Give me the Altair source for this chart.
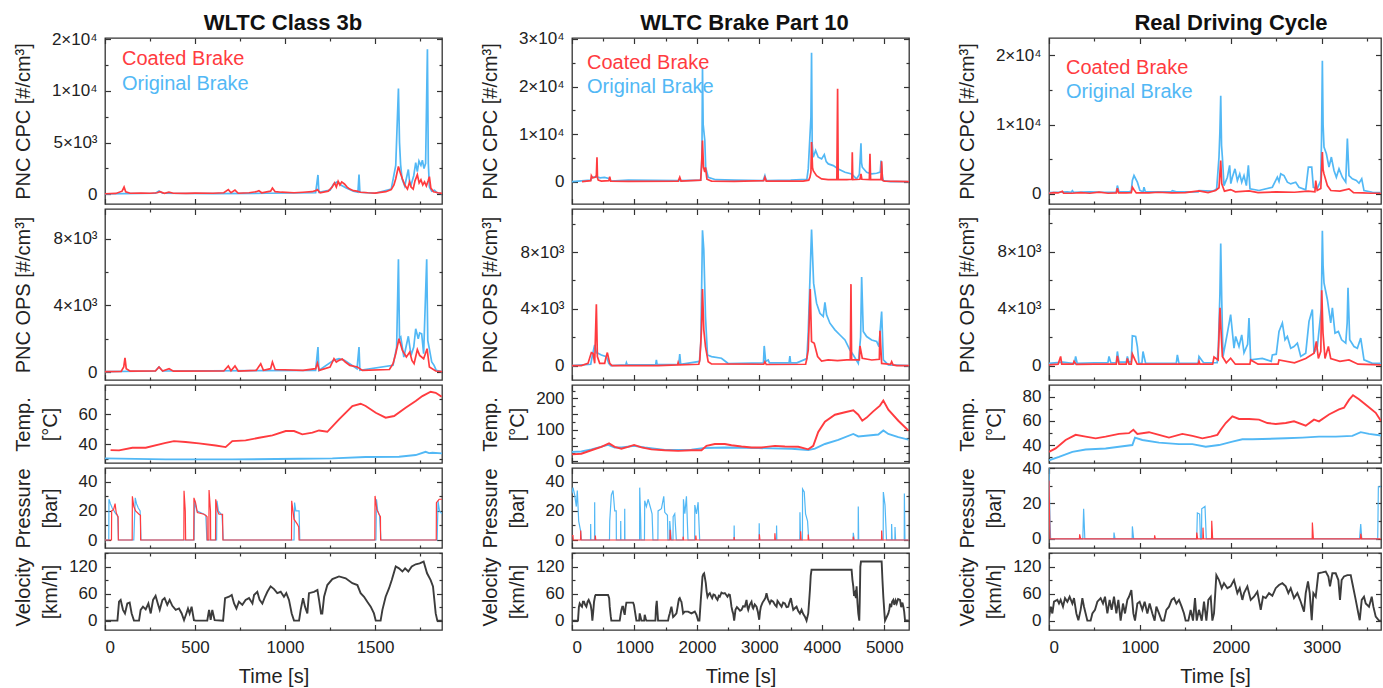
import altair as alt
import pandas as pd

RED = "#ff3b3f"
BLUE = "#52b8f5"
GREY = "#3c3c3c"
FONT = "Liberation Sans"

# ---------------------------------------------------------------- WLTC Class 3b
wltc_cpc_coated = [(0,50),(60,80),(95,300),(106,700),(115,250),(140,100),(200,120),(250,100),(290,150),(305,250),(330,100),(355,200),(380,100),(450,80),(500,120),(600,100),(660,150),(685,450),(700,150),(722,400),(740,100),(800,150),(840,250),(855,350),(870,150),(920,300),(930,600),(945,250),(980,200),(1050,150),(1100,200),(1150,250),(1170,350),(1180,450),(1195,150),(1240,300),(1262,700),(1275,1100),(1285,700),(1295,1250),(1305,900),(1315,1200),(1330,1000),(1345,700),(1360,500),(1380,350),(1400,300),(1420,200),(1460,150),(1500,120),(1560,250),(1590,450),(1605,900),(1615,1500),(1630,2700),(1642,2000),(1652,1500),(1665,900),(1680,500),(1692,1200),(1700,700),(1712,500),(1722,1300),(1735,1900),(1745,1100),(1755,1400),(1765,900),(1775,1200),(1785,800),(1795,1300),(1802,1700),(1810,600),(1825,250),(1850,150),(1872,80)]
wltc_cpc_original = [(0,30),(100,60),(280,100),(300,320),(320,100),(600,60),(900,100),(1170,150),(1183,1870),(1188,200),(1250,400),(1270,1000),(1290,1200),(1310,900),(1340,600),(1380,300),(1405,200),(1411,1900),(1416,200),(1500,100),(1590,500),(1615,2800),(1630,10250),(1636,5000),(1642,2900),(1650,1500),(1665,800),(1685,2400),(1692,1200),(1700,900),(1715,1800),(1726,3060),(1735,2200),(1744,3220),(1755,2800),(1763,3300),(1772,2500),(1781,3000),(1791,14040),(1796,3000),(1802,700),(1815,300),(1830,400),(1845,150),(1872,50)]
wltc_ops_coated = [(0,20),(90,30),(104,300),(111,845),(118,200),(140,50),(280,60),(300,300),(320,60),(356,200),(380,50),(660,60),(685,360),(700,80),(722,360),(740,60),(840,100),(865,500),(880,100),(920,200),(930,600),(945,150),(1100,100),(1170,200),(1180,540),(1190,100),(1250,300),(1272,800),(1285,600),(1300,700),(1318,780),(1335,600),(1360,400),(1402,300),(1430,100),(1580,150),(1600,500),(1615,1100),(1633,2000),(1652,1300),(1674,900),(1693,1200),(1705,700),(1717,500),(1735,1350),(1748,1000),(1770,800),(1789,1400),(1802,300),(1837,60),(1872,20)]
wltc_ops_original = [(0,20),(280,60),(300,300),(320,60),(1170,100),(1183,1500),(1188,100),(1270,700),(1300,800),(1330,700),(1400,200),(1411,1500),(1416,100),(1600,400),(1620,1500),(1630,6780),(1636,2000),(1643,2100),(1660,900),(1685,2150),(1700,1000),(1715,1500),(1726,2600),(1740,2000),(1748,2350),(1759,2300),(1770,1100),(1787,6780),(1793,1900),(1800,1500),(1815,600),(1828,400),(1840,100),(1872,20)]
wltc_temp_coated = [(31,36.2),(78,36),(152,37.8),(226,37.8),(337,41),(383,42.2),(448,41.6),(522,40.7),(615,39.3),(670,38.2),(707,42.2),(781,42.7),(856,44.4),(930,46),(1004,48.9),(1050,48.9),(1096,46.7),(1152,47.8),(1189,49.3),(1235,48.4),(1300,56.7),(1374,65.6),(1420,67.1),(1448,65.6),(1504,61.1),(1559,57.8),(1606,58.9),(1670,64.4),(1726,68.9),(1763,72.2),(1809,75.1),(1837,74.4),(1870,71.8)]
wltc_temp_original = [(0,30.7),(337,30),(707,30),(1078,30.4),(1263,30.7),(1448,31.6),(1633,31.8),(1726,32.9),(1781,35.1),(1800,34.2),(1819,34.4),(1872,34)]
wltc_pressure_coated = [(0,0),(36,0),(37,20),(48,21),(56,25),(62,19),(69,16.5),(73,16),(74,0),(151,0),(152,30),(160,23),(170,20),(189,17.7),(197,17),(198,0),(438,0),(439,33.8),(446,20),(448,0),(493,0),(494,29),(503,25.7),(513,18.9),(550,17.7),(563,16.5),(567,16),(568,0),(577,0),(578,34.3),(586,20),(587,0),(614,0),(615,28),(625,20),(633,17.7),(653,17.7),(655,0),(1036,0),(1037,27),(1050,14.3),(1069,10.8),(1076,9),(1078,0),(1499,0),(1500,30.3),(1510,21),(1522,17.7),(1530,16),(1531,0),(1840,0),(1841,25.7),(1856,28),(1872,28)]
wltc_pressure_original = [(0,0),(21,0),(22,28),(30,25),(40,22),(50,20),(60,18),(70,17),(75,0),(160,0),(168,29),(175,25),(185,22),(195,20),(200,0),(495,0),(498,27),(510,20),(545,18),(560,17),(566,0),(620,0),(622,27),(630,20),(650,17),(657,0),(1050,0),(1053,25.7),(1060,20),(1078,20),(1082,0),(1505,0),(1508,28),(1515,20),(1525,17),(1533,0),(1845,0),(1850,27),(1858,20),(1872,18)]
wltc_velocity = [(0,0),(69,0),(78,42),(87,46),(100,24),(111,16),(124,38),(137,40),(148,16),(161,0),(189,0),(198,24),(211,31),(226,25),(241,38),(254,16),(267,46),(281,55),(294,37),(304,24),(319,46),(331,50),(346,35),(359,46),(374,33),(393,24),(411,27),(426,16),(439,1),(452,16),(461,27),(470,16),(481,31),(494,1),(504,0),(568,0),(578,24),(587,2),(596,24),(609,1),(656,0),(667,50),(689,53),(704,57),(717,38),(730,27),(744,42),(763,35),(781,46),(800,50),(819,38),(828,57),(846,64),(859,46),(874,38),(889,53),(902,64),(920,76),(939,70),(957,61),(976,64),(994,53),(1007,61),(1022,46),(1037,16),(1050,0),(1078,0),(1087,24),(1100,50),(1111,31),(1124,16),(1133,61),(1161,64),(1180,68),(1189,46),(1200,16),(1207,16),(1217,53),(1235,79),(1263,92),(1300,98),(1337,94),(1374,83),(1402,79),(1420,61),(1439,53),(1457,42),(1476,31),(1494,16),(1504,0),(1531,0),(1541,24),(1559,53),(1578,72),(1593,90),(1615,120),(1633,116),(1652,109),(1667,116),(1685,109),(1704,120),(1726,125),(1748,127),(1770,131),(1789,105),(1809,90),(1822,76),(1837,16),(1846,0),(1872,0)]

# ---------------------------------------------------------------- WLTC Brake Part 10
brake_cpc_coated = [(160,0),(300,200),(310,1260),(330,800),(370,900),(390,1260),(400,5130),(408,800),(420,300),(470,100),(590,200),(604,1050),(620,100),(900,50),(1700,100),(1725,900),(1745,100),(2060,300),(2073,3000),(2089,8640),(2105,3000),(2126,2000),(2137,3000),(2160,500),(2233,100),(2600,50),(3070,200),(3088,900),(3110,100),(3700,100),(3790,300),(3809,900),(3825,2000),(3835,8300),(3850,3000),(3862,2300),(3915,1260),(3996,560),(4100,400),(4240,400),(4252,19500),(4262,400),(4400,400),(4480,500),(4487,6180),(4495,400),(4610,500),(4626,1600),(4640,500),(4760,400),(4770,5830),(4780,400),(4945,400),(4957,4290),(4970,300),(5000,100),(5395,0)]
brake_cpc_original = [(0,0),(300,300),(320,900),(400,1000),(450,800),(520,900),(604,600),(620,100),(900,300),(1700,200),(2060,300),(2080,5000),(2089,24100),(2100,12000),(2126,8640),(2140,3000),(2180,900),(2300,400),(2600,300),(3060,200),(3088,1260),(3110,200),(3500,300),(3760,500),(3782,2670),(3825,13560),(3835,27100),(3845,8000),(3862,5130),(3900,6540),(3942,5130),(3996,4780),(4039,5690),(4070,4200),(4103,3720),(4183,3370),(4263,2670),(4370,1970),(4476,1620),(4556,560),(4600,1500),(4626,8080),(4635,4000),(4647,3020),(4717,1970),(4797,1620),(4877,1760),(4935,2000),(4947,4430),(4970,1000),(4984,200),(5100,0),(5395,0)]
brake_ops_coated = [(0,0),(150,0),(256,160),(310,920),(337,870),(363,165),(390,4330),(406,640),(443,160),(523,160),(540,500),(566,920),(604,160),(640,0),(1378,0),(1690,50),(1699,210),(1710,50),(2030,100),(2046,400),(2073,2520),(2089,5390),(2110,2520),(2137,1340),(2180,280),(2233,120),(3070,100),(3088,280),(3110,80),(3740,100),(3755,400),(3782,1100),(3814,5390),(3835,1700),(3878,1580),(3932,640),(3996,330),(4100,400),(4250,350),(4400,400),(4455,400),(4466,5740),(4476,400),(4600,400),(4610,1390),(4647,520),(4800,400),(4920,450),(4930,2450),(4957,160),(5100,100),(5117,280),(5140,50),(5200,0),(5395,0)]
brake_ops_original = [(0,0),(300,100),(330,800),(363,1460),(390,900),(417,870),(470,750),(550,640),(588,160),(620,0),(860,50),(871,210),(885,50),(1340,80),(1351,400),(1362,80),(1710,100),(1725,820),(1740,100),(2040,300),(2062,1580),(2089,9530),(2110,8160),(2137,3460),(2169,750),(2233,640),(2393,520),(2500,150),(3065,200),(3077,1390),(3100,300),(3141,400),(3160,200),(3475,200),(3488,680),(3500,200),(3600,200),(3760,500),(3782,2400),(3835,9580),(3868,5810),(3915,4400),(3969,3690),(4022,3460),(4049,4450),(4076,3580),(4129,2990),(4209,2520),(4290,2160),(4370,1810),(4450,1100),(4503,750),(4583,160),(4620,2000),(4637,6240),(4663,2400),(4717,2050),(4797,1810),(4877,1700),(4914,1340),(4957,3810),(4984,400),(5064,50),(5395,0)]
brake_temp_coated = [(0,22),(150,24),(310,35),(470,46),(593,57),(684,46),(791,40),(897,46),(994,52),(1111,44),(1271,38),(1485,35),(1699,33),(1912,35),(2073,35),(2153,49),(2286,55),(2447,55),(2553,51),(2714,47),(2874,44),(3034,44),(3248,49),(3408,47),(3622,46),(3782,38),(3862,49),(3942,93),(4049,126),(4209,148),(4370,156),(4503,162),(4583,148),(4647,129),(4717,139),(4818,158),(4930,177),(4984,193),(5064,164),(5224,129),(5385,98)]
brake_temp_original = [(0,30),(150,31),(310,38),(577,52),(684,44),(791,44),(994,49),(1164,44),(1485,36),(1912,37),(2126,42),(2447,44),(2981,42),(3515,40),(3782,36),(3889,40),(4049,55),(4263,68),(4503,87),(4583,79),(4744,82),(4904,85),(4984,98),(5064,87),(5224,77),(5385,69)]
brake_pressure_coated = [(0,3),(16,3),(20,0),(137,0),(139,6.5),(145,0),(372,0),(374,3),(380,0),(1569,0),(1571,7),(1580,0),(1777,0),(1779,2.3),(1785,0),(1980,0),(1982,3),(1990,0),(2594,0),(2596,2),(2600,0),(2998,0),(3000,4),(3008,0),(3246,0),(3248,4.6),(3256,0),(3658,0),(3660,6),(3668,0),(3780,0),(3782,3.7),(3790,0),(4501,0),(4503,2.3),(4510,0),(4955,0),(4957,6.5),(4965,0),(5395,0)]
brake_pressure_original = [(0,32),(16,36),(43,31),(69,23),(85,34),(107,13),(139,6),(150,0),(297,0),(299,11),(302,0),(361,0),(363,26),(366,0),(600,0),(604,13),(630,31),(657,34),(684,20),(708,20),(710,0),(778,0),(780,13),(783,0),(842,0),(844,21.5),(847,0),(1082,0),(1084,36),(1100,13),(1105,0),(1160,0),(1164,27),(1191,23),(1218,28),(1261,21.5),(1282,18),(1296,0),(1375,0),(1378,20),(1432,21.5),(1469,30),(1485,19),(1528,17),(1536,0),(1563,0),(1565,13),(1590,0),(1617,0),(1619,16),(1645,18),(1670,0),(1782,0),(1784,28),(1806,18),(1832,30),(1857,0),(1964,0),(1966,24),(1993,18),(2019,26),(2044,0),(2594,0),(2596,10),(2600,0),(2995,0),(2997,11.5),(3001,0),(3273,0),(3275,10),(3279,0),(3647,0),(3649,19),(3660,0),(3689,0),(3691,35),(3718,33),(3739,18),(3771,13),(3790,0),(4501,0),(4503,5),(4520,0),(4581,0),(4583,23),(4590,0),(4982,0),(4984,33),(5011,24),(5035,0),(5115,0),(5117,11),(5125,0),(5169,0),(5171,9),(5180,0),(5319,0),(5321,32),(5330,0),(5395,0)]
brake_velocity = [(0,0),(96,0),(110,30),(123,38),(140,34),(160,31),(175,42),(192,42),(210,35),(230,31),(250,42),(267,46),(285,40),(299,35),(315,20),(326,0),(340,20),(353,42),(370,55),(379,57),(450,57),(577,57),(595,50),(604,31),(620,10),(630,0),(764,0),(780,15),(791,24),(805,31),(817,31),(830,20),(844,13),(858,30),(871,40),(978,40),(992,35),(1004,24),(1031,0),(1075,0),(1084,16),(1095,10),(1111,0),(1155,0),(1164,13),(1180,5),(1191,0),(1335,0),(1345,30),(1357,44),(1368,20),(1378,0),(1538,0),(1552,10),(1565,16),(1580,25),(1592,31),(1605,20),(1619,8),(1635,10),(1672,16),(1690,30),(1699,38),(1712,48),(1725,50),(1740,45),(1752,42),(1765,30),(1779,16),(1806,20),(1859,20),(1912,16),(1966,20),(1993,13),(2019,0),(2040,0),(2062,46),(2075,70),(2089,98),(2102,103),(2115,105),(2128,95),(2142,83),(2155,65),(2169,53),(2185,58),(2206,61),(2225,55),(2244,50),(2265,58),(2286,57),(2308,50),(2329,46),(2350,55),(2366,53),(2393,62),(2420,60),(2447,61),(2470,57),(2489,53),(2510,58),(2527,57),(2540,45),(2553,31),(2570,20),(2580,16),(2596,0),(2605,10),(2617,24),(2640,30),(2660,27),(2690,22),(2714,24),(2740,32),(2767,31),(2794,46),(2808,30),(2821,24),(2845,35),(2874,42),(2890,30),(2901,27),(2925,36),(2954,31),(2975,20),(2997,2),(3010,20),(3024,31),(3050,40),(3077,46),(3095,50),(3114,61),(3135,48),(3168,38),(3190,45),(3221,42),(3250,35),(3275,31),(3290,44),(3301,42),(3330,36),(3355,31),(3380,40),(3408,38),(3435,30),(3462,31),(3480,40),(3504,50),(3520,38),(3542,24),(3570,28),(3595,31),(3620,22),(3649,16),(3675,24),(3700,15),(3729,9),(3755,0),(3782,16),(3800,50),(3809,68),(3822,100),(3835,113),(4476,113),(4490,90),(4503,76),(4515,55),(4530,61),(4545,50),(4556,76),(4570,40),(4583,16),(4599,0),(4606,40),(4616,120),(4626,131),(4957,131),(4970,90),(4984,53),(5000,20),(5011,0),(5064,16),(5080,25),(5091,38),(5110,30),(5125,42),(5144,46),(5160,35),(5180,45),(5198,38),(5220,48),(5251,46),(5270,30),(5290,40),(5305,31),(5318,20),(5331,1),(5395,0)]

# ---------------------------------------------------------------- Real Driving Cycle
rdc_cpc_coated = [(0,100),(50,200),(100,150),(147,390),(160,100),(250,100),(350,200),(450,100),(550,250),(650,100),(740,150),(752,820),(765,150),(850,150),(905,200),(917,970),(935,600),(960,150),(1100,150),(1200,250),(1350,150),(1500,200),(1650,450),(1750,200),(1833,500),(1870,900),(1889,4840),(1900,1500),(1907,1210),(1930,400),(1998,630),(2050,300),(2200,450),(2300,200),(2500,300),(2700,250),(2850,400),(2925,300),(2934,1940),(2950,500),(2990,800),(3007,6050),(3015,3500),(3025,2900),(3062,1210),(3100,500),(3200,400),(3300,730),(3350,200),(3450,150),(3550,100),(3652,100)]
rdc_cpc_original = [(0,200),(100,250),(200,300),(245,250),(257,480),(270,250),(450,300),(600,250),(740,250),(752,1210),(770,300),(880,300),(905,400),(917,1940),(935,2660),(972,1700),(1000,500),(1035,300),(1045,970),(1060,300),(1200,300),(1345,300),(1357,480),(1400,300),(1640,300),(1650,480),(1800,400),(1844,700),(1870,5330),(1880,9000),(1889,14190),(1898,7000),(1907,5330),(1925,1210),(1962,2420),(1987,4120),(2000,1500),(2017,2420),(2046,3630),(2072,1940),(2098,2900),(2120,1700),(2145,2660),(2171,1210),(2193,4120),(2211,730),(2310,500),(2457,970),(2512,2420),(2530,1800),(2549,2900),(2585,2660),(2622,1700),(2659,1450),(2714,1700),(2750,970),(2824,600),(2853,3870),(2890,3870),(2908,970),(2952,800),(2989,1940),(2998,8000),(3007,19220),(3015,10000),(3025,6780),(3051,5810),(3080,3870),(3106,5330),(3135,3390),(3161,2420),(3190,3630),(3227,2420),(3264,1700),(3282,7990),(3300,2660),(3337,2180),(3381,1940),(3410,1550),(3440,2180),(3465,480),(3557,250),(3652,200)]
rdc_ops_coated = [(0,50),(100,100),(128,640),(140,100),(265,100),(275,300),(300,80),(500,100),(740,100),(752,680),(770,100),(850,100),(862,500),(880,100),(905,100),(917,820),(946,400),(970,100),(1200,100),(1640,100),(1650,300),(1660,100),(1800,100),(1815,600),(1860,400),(1881,4050),(1892,2520),(1907,640),(1950,200),(1998,520),(2050,100),(2210,100),(2218,400),(2300,100),(2520,100),(2530,400),(2700,200),(2824,500),(2915,870),(2941,1700),(2963,500),(2990,1000),(3000,5290),(3014,2280),(3036,500),(3073,1340),(3099,500),(3200,300),(3300,400),(3400,100),(3652,50)]
rdc_ops_original = [(0,150),(150,250),(280,150),(293,640),(310,150),(500,200),(648,200),(660,640),(680,200),(740,200),(752,990),(770,250),(850,250),(862,640),(880,200),(905,300),(917,2090),(953,2050),(972,1340),(990,150),(1022,150),(1034,990),(1063,150),(1400,150),(1412,750),(1430,150),(1640,150),(1650,640),(1700,200),(1850,200),(1863,1340),(1880,5000),(1889,8560),(1900,4640),(1914,640),(1962,2280),(1998,3580),(2035,1220),(2053,2050),(2090,1340),(2120,2160),(2145,900),(2185,1500),(2200,3340),(2218,400),(2347,500),(2445,300),(2457,750),(2500,800),(2530,2400),(2567,2990),(2596,1810),(2622,2050),(2659,1220),(2695,1340),(2732,1580),(2769,640),(2824,870),(2860,3110),(2897,3930),(2915,870),(2952,1340),(2995,4000),(3007,9460),(3015,7000),(3025,5810),(3062,4640),(3099,2990),(3117,4050),(3146,2280),(3183,2400),(3219,1810),(3264,1580),(3280,3000),(3289,5460),(3308,1810),(3355,1340),(3392,1220),(3429,1930),(3465,400),(3557,160),(3652,160)]
rdc_temp_coated = [(0,34.4),(73,37.2),(183,44.2),(293,48.5),(403,47),(513,45.6),(623,47),(770,49.3),(880,49.9),(928,52.7),(972,49.3),(1100,50.7),(1210,48.5),(1320,46.2),(1467,49.3),(1577,47.6),(1687,45.6),(1779,47),(1852,48.5),(1889,52.7),(1944,58.3),(2017,63.9),(2090,61.7),(2200,61.7),(2310,61.1),(2402,58.3),(2494,57.5),(2604,58.3),(2695,59.7),(2824,56.1),(2915,61.1),(2970,59.7),(3080,65.4),(3190,69.6),(3245,71),(3300,77.5),(3344,81.4),(3410,78),(3502,72.4),(3594,66.8),(3652,60)]
rdc_temp_original = [(0,27.3),(110,30.1),(257,34.4),(403,36.3),(623,37.2),(770,38.6),(917,40),(946,46.2),(1027,44.2),(1210,42),(1430,40.8),(1577,40.8),(1724,38.6),(1870,40),(2017,42.8),(2127,44.8),(2237,44.8),(2604,45.6),(2787,46.2),(2970,47),(3154,47),(3337,47.6),(3429,50.7),(3520,49.3),(3652,48)]
rdc_pressure_coated = [(0,33),(11,0),(335,0),(337,2.5),(348,0),(1160,0),(1162,2),(1170,0),(1623,0),(1625,3.5),(1635,0),(1692,0),(1694,6.3),(1700,0),(1788,0),(1790,10.2),(1800,0),(2895,0),(2897,9.2),(2908,0),(3427,0),(3429,2.9),(3440,0),(3652,0)]
rdc_pressure_original = [(0,40),(11,10),(18,0),(372,0),(381,17),(394,0),(713,0),(715,3.5),(726,0),(915,0),(917,7),(931,0),(1625,0),(1632,14.6),(1657,14),(1666,0),(1678,0),(1680,17),(1716,18.3),(1730,0),(3416,0),(3429,8.3),(3440,0),(3616,0),(3623,29.4),(3652,29.4)]
rdc_velocity = [(0,5),(18,31),(37,16),(55,42),(92,46),(110,38),(128,46),(154,31),(176,50),(202,42),(227,53),(257,38),(275,50),(301,16),(323,1),(348,24),(367,50),(385,31),(403,16),(422,0),(458,0),(477,16),(506,24),(532,42),(568,50),(594,38),(616,53),(642,16),(667,46),(689,24),(715,53),(741,16),(763,46),(788,0),(814,38),(836,16),(862,46),(880,53),(906,68),(928,16),(946,0),(972,38),(997,42),(1027,24),(1052,42),(1082,16),(1107,38),(1137,16),(1162,0),(1181,31),(1210,16),(1239,0),(1265,0),(1291,24),(1320,31),(1349,46),(1375,50),(1401,38),(1430,46),(1459,31),(1485,16),(1503,0),(1533,0),(1558,24),(1584,0),(1606,50),(1625,0),(1650,24),(1680,0),(1705,42),(1731,0),(1753,46),(1779,53),(1797,0),(1815,16),(1841,101),(1870,90),(1900,72),(1925,83),(1962,72),(1998,76),(2035,90),(2072,61),(2098,72),(2127,46),(2145,61),(2182,76),(2219,46),(2255,53),(2292,64),(2329,24),(2354,53),(2384,50),(2420,61),(2457,55),(2494,72),(2530,79),(2567,83),(2604,76),(2633,61),(2659,72),(2695,50),(2732,61),(2769,42),(2805,20),(2824,61),(2849,87),(2868,61),(2890,1),(2908,61),(2934,53),(2963,105),(3007,107),(3044,109),(3073,98),(3091,76),(3117,105),(3154,105),(3183,90),(3201,46),(3219,90),(3245,98),(3282,101),(3319,101),(3337,83),(3374,46),(3403,16),(3418,1),(3440,46),(3465,53),(3484,38),(3520,31),(3550,53),(3568,31),(3594,9),(3630,0),(3652,0)]

# axis text
CPC_TITLE = "PNC CPC [#/cm³]"
OPS_TITLE = "PNC OPS [#/cm³]"
TEMP_TITLE = ["Temp.", "[°C]"]
PRES_TITLE = ["Pressure", "[bar]"]
VEL_TITLE = ["Velocity", "[km/h]"]
LEGEND_LABELS = ["Coated Brake", "Original Brake"]


def frame(pairs):
    return pd.DataFrame(pairs, columns=["t", "v"])


def steps(lo, hi, step):
    out, k = [], 0
    while lo + k * step <= hi + 1e-9:
        out.append(lo + k * step)
        k += 1
    return out


def label_expr(labels):
    expr = "''"
    for val, txt in labels.items():
        expr = f"datum.value == {val} ? '{txt}' : ({expr})"
    return expr


def tick_len(major):
    return {"condition": {"test": f"abs(datum.value / {major} - round(datum.value / {major})) < 1e-6",
                          "value": 5.5}, "value": 3}


def panel(lines, xdom, xstep, xmajor, ydom, ystep, ymajor, ylabels, ytitle, width, height,
          bottom=False, legend=None, title=None, title_dx=0):
    xs = alt.Scale(domain=xdom, nice=False, zero=False)
    ys = alt.Scale(domain=ydom, nice=False, zero=False)
    xt = steps(0, xdom[1], xstep)
    yt = [v for v in steps(ystep * int(ydom[0] // ystep), ydom[1], ystep) if ydom[0] - 1e-9 <= v <= ydom[1] + 1e-9]

    x_lab = alt.Axis(values=steps(0, xdom[1], xmajor), format="d", ticks=False, tickSize=0, domain=False,
                     grid=False, title="Time [s]", labelPadding=9, titlePadding=11, labelFontSize=17,
                     titleFontSize=20) if bottom else None
    y_lab = alt.Axis(values=list(ylabels.keys()), labelExpr=label_expr(ylabels), ticks=False, tickSize=0,
                     domain=False, grid=False, title=ytitle, labelPadding=8, labelFontSize=17,
                     titleFontSize=20, titleX=-82, titleY=height / 2,
                     titleAlign="center", titleBaseline="middle", titleAngle=270, titleLineHeight=27)

    def tick_axis(orient, offset, vals, major):
        return alt.Axis(orient=orient, offset=offset, values=vals, labels=False, domain=False, grid=False,
                        title=None, ticks=True, tickSize=tick_len(major), tickColor="#333333", tickWidth=1.2)

    layers = []
    for i, (pairs, color, sw) in enumerate(lines):
        layers.append(
            alt.Chart(frame(pairs)).mark_line(color=color, strokeWidth=sw, clip=True).encode(
                x=alt.X("t:Q", scale=xs, axis=x_lab if i == 0 else None),
                y=alt.Y("v:Q", scale=ys, axis=y_lab if i == 0 else None),
            )
        )
    base = frame(lines[0][0])
    # inward ticks on all four sides of the frame
    layers.append(alt.Chart(base).mark_line(strokeOpacity=0).encode(
        x=alt.X("t:Q", scale=xs, axis=tick_axis("top", -height, xt, xmajor)),
        y=alt.Y("v:Q", scale=ys, axis=tick_axis("right", -width, yt, ymajor)),
    ))
    layers.append(alt.Chart(base).mark_line(strokeOpacity=0).encode(
        x=alt.X("t:Q", scale=xs, axis=tick_axis("bottom", -height, xt, xmajor)),
        y=alt.Y("v:Q", scale=ys, axis=tick_axis("left", -width, yt, ymajor)),
    ))
    if legend is not None:
        lx, ly1, ly2 = legend
        for label, color, ly in [(LEGEND_LABELS[0], RED, ly1), (LEGEND_LABELS[1], BLUE, ly2)]:
            layers.append(alt.Chart(pd.DataFrame({"label": [label]})).mark_text(
                align="left", baseline="alphabetic", fontSize=20, font=FONT, color=color
            ).encode(x=alt.value(lx), y=alt.value(ly), text="label:N"))
    if title is not None:
        layers.append(alt.Chart(pd.DataFrame({"name": [title]})).mark_text(
            align="center", baseline="alphabetic", fontSize=22, fontWeight="bold", font=FONT, color="#111111"
        ).encode(x=alt.value(width / 2 + title_dx), y=alt.value(-8), text="name:N"))

    return alt.layer(*layers).resolve_axis(x="independent", y="independent").properties(
        width=width, height=height)


H = [166, 171, 78, 80, 77]


def column(name, data, xdom, xstep, xmajor, width, cfg, legend, title_dx):
    cpc_c, cpc_o, ops_c, ops_o, tmp_c, tmp_o, prs_c, prs_o, vel = data
    rows = [
        panel([(cpc_o, BLUE, 1.7), (cpc_c, RED, 1.7)], xdom, xstep, xmajor, *cfg[0], CPC_TITLE, width, H[0],
              legend=legend, title=name, title_dx=title_dx),
        panel([(ops_o, BLUE, 1.7), (ops_c, RED, 1.7)], xdom, xstep, xmajor, *cfg[1], OPS_TITLE, width, H[1]),
        panel([(tmp_o, BLUE, 1.9), (tmp_c, RED, 1.9)], xdom, xstep, xmajor, *cfg[2], TEMP_TITLE, width, H[2]),
        panel([(prs_o, BLUE, 1.2), (prs_c, RED, 1.2)], xdom, xstep, xmajor, *cfg[3], PRES_TITLE, width, H[3]),
        panel([(vel, GREY, 1.9)], xdom, xstep, xmajor, *cfg[4], VEL_TITLE, width, H[4], bottom=True),
    ]
    return alt.VConcatChart(vconcat=rows, spacing=5, bounds="flush")


PRESSURE_CFG = ([-5.5, 49.5], 10, 20, {0: "0", 20: "20", 40: "40"})
VELOCITY_CFG = ([-20.7, 150], 30, 60, {0: "0", 60: "60", 120: "120"})

col1 = column(
    "WLTC Class 3b",
    [wltc_cpc_coated, wltc_cpc_original, wltc_ops_coated, wltc_ops_original, wltc_temp_coated,
     wltc_temp_original, wltc_pressure_coated, wltc_pressure_original, wltc_velocity],
    [0, 1872], 250, 500, 337,
    [([-940, 15130], 2500, 5000, {0: "0", 5000: "5×10³", 10000: "1×10⁴", 15000: "2×10⁴"}),
     ([-480, 9800], 2000, 4000, {0: "0", 4000: "4×10³", 8000: "8×10³"}),
     ([27.6, 79.6], 10, 20, {40: "40", 60: "60"}),
     PRESSURE_CFG, VELOCITY_CFG],
    (17, 27, 52), 9.5,
)
col2 = column(
    "WLTC Brake Part 10",
    [brake_cpc_coated, brake_cpc_original, brake_ops_coated, brake_ops_original, brake_temp_coated,
     brake_temp_original, brake_pressure_coated, brake_pressure_original, brake_velocity],
    [0, 5395], 500, 1000, 337,
    [([-4710, 30200], 5000, 10000, {0: "0", 10000: "1×10⁴", 20000: "2×10⁴", 30000: "3×10⁴"}),
     ([-1010, 11030], 2000, 4000, {0: "0", 4000: "4×10³", 8000: "8×10³"}),
     ([-5.5, 242.6], 25, 50, {0: "0", 50: "50", 100: "100", 150: "150", 200: "200"}),
     PRESSURE_CFG, VELOCITY_CFG],
    (15, 31, 55), 4,
)
col3 = column(
    "Real Driving Cycle",
    [rdc_cpc_coated, rdc_cpc_original, rdc_ops_coated, rdc_ops_original, rdc_temp_coated,
     rdc_temp_original, rdc_pressure_coated, rdc_pressure_original, rdc_velocity],
    [0, 3652], 500, 1000, 332,
    [([-1450, 22520], 5000, 10000, {0: "0", 10000: "1×10⁴", 20000: "2×10⁴"}),
     ([-1010, 10990], 2000, 4000, {0: "0", 4000: "4×10³", 8000: "8×10³"}),
     ([25.1, 89.9], 10, 20, {40: "40", 60: "60", 80: "80"}),
     ([-5.2, 40], 10, 20, {0: "0", 20: "20", 40: "40"}), VELOCITY_CFG],
    (17, 36, 60), 16,
)

left_pair = alt.HConcatChart(hconcat=[col1, col2], spacing=35)
chart = alt.HConcatChart(hconcat=[left_pair, col3], spacing=45).properties(
    padding={"left": 12, "top": 11, "right": 0, "bottom": 0}
).configure(font=FONT).configure_view(
    stroke="#333333", strokeWidth=1.3
).configure_axis(
    labelFont=FONT, titleFont=FONT, labelColor="#222222", titleColor="#222222", titleFontWeight="normal"
)

chart.save("out.html", embed_options={"renderer": "svg", "actions": False})
